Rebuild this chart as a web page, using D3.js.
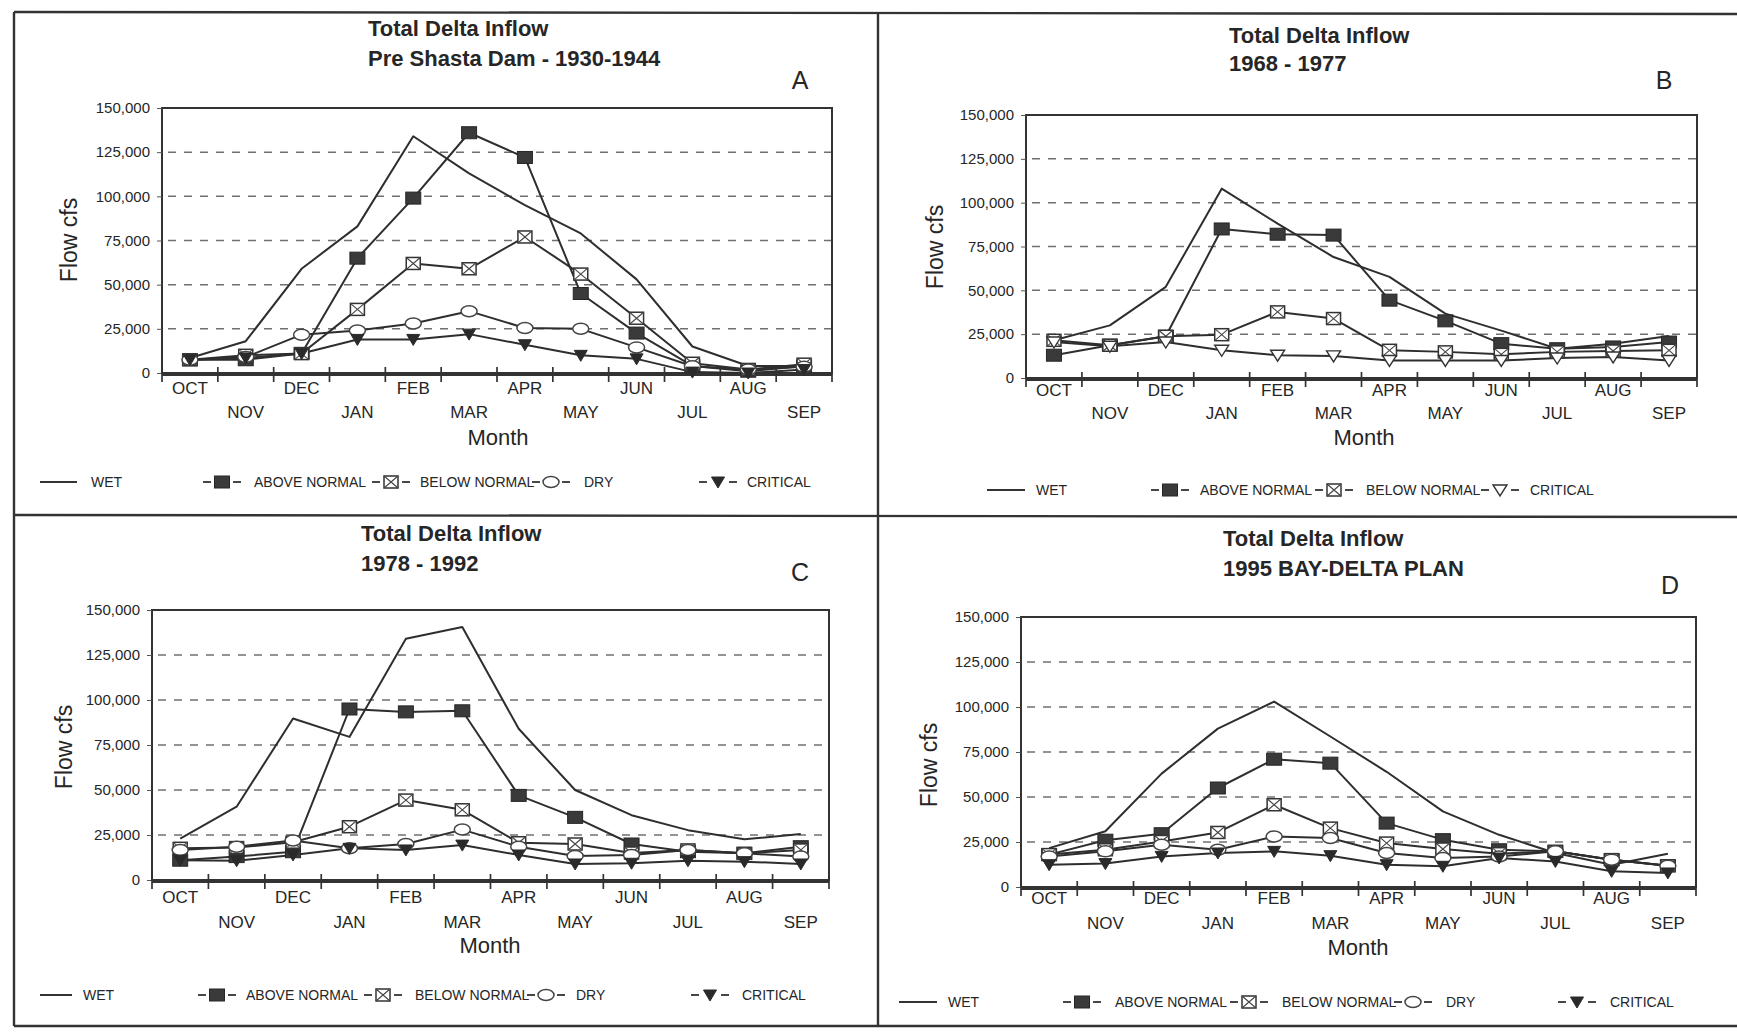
<!DOCTYPE html>
<html><head><meta charset="utf-8">
<script src="https://cdn.jsdelivr.net/npm/d3@7/dist/d3.min.js"></script>
<style>
html,body{margin:0;padding:0;background:#fff;}
svg{display:block;font-family:"Liberation Sans",Arial,sans-serif;}
</style></head><body>
<svg id="chart" width="1737" height="1034"></svg>
<script>
// ---------- DATA ----------
const months = ["OCT","NOV","DEC","JAN","FEB","MAR","APR","MAY","JUN","JUL","AUG","SEP"];
const yTickValues = [0,25000,50000,75000,100000,125000,150000];
const seriesNames = ["WET","ABOVE NORMAL","BELOW NORMAL","DRY","CRITICAL"];

// Panel A: Pre Shasta Dam 1930-1944
const aWet      = [8500,18000,59000,83000,134000,113000,95000,79000,53000,15000,4000,4000];
const aAbove    = [7500,7500,11000,65000,99000,136000,122000,45000,22600,4000,1000,4000];
const aBelow    = [7500,10000,11000,36000,62000,59000,77000,56000,31000,5500,2000,5000];
const aDry      = [7500,9000,21700,24000,28000,35000,25500,25000,14500,3800,2000,3500];
const aCritical = [7500,8500,11000,19000,19000,22000,16000,10000,8000,500,0,2000];

// Panel B: 1968-1977
const bWet      = [21500,30000,52000,108000,88000,69000,57700,36700,27000,16700,19600,24000];
const bAbove    = [13000,18700,23800,85000,82000,81500,44400,32600,19600,16700,17700,20500];
const bBelow    = [21500,18700,23800,24700,37700,33900,15800,14900,13500,14900,15400,15800];
const bCritical = [20500,18100,20500,15800,13000,12600,10000,10000,10000,11400,12000,10000];

// Panel C: 1978-1992
const cWet      = [23000,40700,89700,79500,134000,140600,84000,50000,36000,27700,22600,25500];
const cAbove    = [11000,13000,15700,95000,93400,94000,47000,34800,20000,15700,14800,18500];
const cBelow    = [17600,18000,21000,29600,44400,39000,20700,20000,15000,16700,14800,16700];
const cDry      = [16700,18500,22000,17600,20000,28000,18500,13300,13900,16700,14800,13000];
const cCritical = [11000,10700,13900,17600,16700,19400,13900,8900,9300,10700,10200,8900];

// Panel D: 1995 Bay-Delta Plan
const dWet      = [21600,31000,63000,88000,103000,83600,64000,42000,29000,18900,12400,18500];
const dAbove    = [18000,26000,29600,55000,71000,68800,35500,26300,20700,19800,15200,11800];
const dBelow    = [18000,20700,25300,30300,45700,32700,24400,21100,18500,19800,15200,11800];
const dDry      = [17000,19800,23500,20700,28100,27200,18900,16100,17000,19800,15200,11800];
const dCritical = [12400,13000,17000,18900,19800,17400,12400,11500,16100,14200,8700,7800];

const titleLine1 = "Total Delta Inflow";
const subtitles = ["Pre Shasta Dam - 1930-1944","1968 - 1977","1978 - 1992","1995 BAY-DELTA PLAN"];
const panelLetters = ["A","B","C","D"];

// ---------- LAYOUT ----------
const panels = [
  {series:[aWet,aAbove,aBelow,aDry,aCritical], kinds:["wet","above","below","dry","critical"],
   x0:162,x1:832,yTop:108,y0:373, tx:368,t1:28,t2:58, lx:800,ly:80, fx:69,fy:240,
   r1:388,r2:412, mx:498,my:437, legY:480,
   leg:[{lineA:40,lineB:77,tx:91},{m:222,tx:254},{m:391,tx:420},{m:551,tx:584},{m:718,tx:747}]},
  {series:[bWet,bAbove,bBelow,bCritical], kinds:["wet","above","below","criticalOpen"],
   x0:1026,x1:1697,yTop:115,y0:378, tx:1229,t1:35,t2:63, lx:1664,ly:80, fx:935,fy:247,
   r1:390,r2:413, mx:1364,my:437, legY:488,
   leg:[{lineA:987,lineB:1025,tx:1036},{m:1170,tx:1200},{m:1334,tx:1366},{m:1500,tx:1530}]},
  {series:[cWet,cAbove,cBelow,cDry,cCritical], kinds:["wet","above","below","dry","critical"],
   x0:152,x1:829,yTop:610,y0:880, tx:361,t1:533,t2:563, lx:800,ly:572, fx:64,fy:747,
   r1:897,r2:922, mx:490,my:945, legY:993,
   leg:[{lineA:40,lineB:72,tx:83},{m:217,tx:246},{m:383,tx:415},{m:546,tx:576},{m:710,tx:742}]},
  {series:[dWet,dAbove,dBelow,dDry,dCritical], kinds:["wet","above","below","dry","critical"],
   x0:1021,x1:1696,yTop:617,y0:887, tx:1223,t1:538,t2:568, lx:1670,ly:585, fx:929,fy:765,
   r1:898,r2:923, mx:1358,my:947, legY:1000,
   leg:[{lineA:899,lineB:937,tx:948},{m:1082,tx:1115},{m:1249,tx:1282},{m:1413,tx:1446},{m:1577,tx:1610}]}
];
const legendLabels = {wet:"WET",above:"ABOVE NORMAL",below:"BELOW NORMAL",dry:"DRY",critical:"CRITICAL",criticalOpen:"CRITICAL"};

const INK = "#262626";
const svg = d3.select("#chart");

// frame
const frame = svg.append("g").attr("stroke","#333").attr("stroke-width",2.4).attr("fill","none");
frame.append("line").attr("x1",14).attr("y1",12).attr("x2",1737).attr("y2",14);
frame.append("line").attr("x1",14).attr("y1",12).attr("x2",14).attr("y2",1026);
frame.append("line").attr("x1",14).attr("y1",1026).attr("x2",1737).attr("y2",1026);
frame.append("line").attr("x1",878).attr("y1",13).attr("x2",878).attr("y2",1026);
frame.append("line").attr("x1",14).attr("y1",515).attr("x2",1737).attr("y2",517);

function drawMarker(g, kind, x, y){
  if(kind==="above"){
    g.append("rect").attr("x",x-7.5).attr("y",y-6).attr("width",15).attr("height",12)
     .attr("fill","#3a3a3a").attr("stroke","#262626").attr("stroke-width",1);
  } else if(kind==="below"){
    g.append("rect").attr("x",x-7).attr("y",y-6).attr("width",14).attr("height",12)
     .attr("fill","#fff").attr("stroke","#333").attr("stroke-width",1.5);
    g.append("path").attr("d",`M${x-7},${y-6}L${x+7},${y+6}M${x+7},${y-6}L${x-7},${y+6}`)
     .attr("stroke","#444").attr("stroke-width",1.1).attr("fill","none");
  } else if(kind==="dry"){
    g.append("ellipse").attr("cx",x).attr("cy",y).attr("rx",8).attr("ry",5.5)
     .attr("fill","#fff").attr("stroke","#444").attr("stroke-width",1.5);
  } else if(kind==="critical"){
    g.append("path").attr("d",`M${x-6.5},${y-5}L${x+6.5},${y-5}L${x},${y+6}Z`)
     .attr("fill","#2a2a2a").attr("stroke","#2a2a2a").attr("stroke-width",1);
  } else if(kind==="criticalOpen"){
    g.append("path").attr("d",`M${x-7},${y-5}L${x+7},${y-5}L${x},${y+6}Z`)
     .attr("fill","#fff").attr("stroke","#333").attr("stroke-width",1.4);
  }
}

panels.forEach((p,pi)=>{
  const g = svg.append("g");
  const band = d3.scaleBand().domain(months).range([p.x0,p.x1]).paddingInner(0).paddingOuter(0);
  const x = m => band(m) + band.bandwidth()/2;
  const y = d3.scaleLinear().domain([0,150000]).range([p.y0,p.yTop]);

  // titles
  g.append("text").attr("x",p.tx).attr("y",p.t1+8).text(titleLine1)
   .attr("font-size",22).attr("font-weight","bold").attr("fill",INK);
  g.append("text").attr("x",p.tx).attr("y",p.t2+8).text(subtitles[pi])
   .attr("font-size",22).attr("font-weight","bold").attr("fill",INK);
  g.append("text").attr("x",p.lx).attr("y",p.ly+9).attr("text-anchor","middle").text(panelLetters[pi])
   .attr("font-size",25).attr("fill",INK);

  // gridlines
  g.append("g").selectAll("line").data(yTickValues.filter(v=>v>0 && v<150000)).join("line")
   .attr("x1",p.x0+6).attr("x2",p.x1).attr("y1",d=>y(d)).attr("y2",d=>y(d))
   .attr("stroke","#707070").attr("stroke-width",1.5).attr("stroke-dasharray","8,8");

  // plot box
  g.append("rect").attr("x",p.x0).attr("y",p.yTop).attr("width",p.x1-p.x0).attr("height",p.y0-p.yTop)
   .attr("fill","none").attr("stroke","#333").attr("stroke-width",2);

  // y axis
  const ya = g.append("g").attr("transform",`translate(${p.x0},0)`)
    .call(d3.axisLeft(y).tickValues(yTickValues).tickFormat(d3.format(",")).tickSize(5).tickPadding(7));
  ya.select(".domain").remove();
  ya.selectAll("line").attr("stroke","#555");
  ya.selectAll("text").attr("font-size",15).attr("fill",INK).attr("font-family","Liberation Sans, Arial, sans-serif");

  // x axis ticks (between months) and labels (alternating rows)
  const bounds = months.map(m=>band(m)).concat([p.x1]);
  g.append("g").selectAll("line").data(bounds).join("line")
   .attr("x1",d=>d).attr("x2",d=>d).attr("y1",p.y0-6).attr("y2",p.y0+9)
   .attr("stroke","#333").attr("stroke-width",1.7);
  g.append("line").attr("x1",p.x0).attr("x2",p.x1).attr("y1",p.y0+2).attr("y2",p.y0+2)
   .attr("stroke","#333").attr("stroke-width",2);
  g.append("g").selectAll("text").data(months).join("text")
   .attr("x",d=>x(d)).attr("y",(d,i)=> (i%2===0? p.r1 : p.r2) + 6)
   .attr("text-anchor","middle").attr("font-size",17).attr("fill",INK).text(d=>d);
  g.append("text").attr("x",p.mx).attr("y",p.my+8).attr("text-anchor","middle")
   .attr("font-size",22).attr("fill",INK).text("Month");
  g.append("text").attr("transform",`translate(${p.fx},${p.fy}) rotate(-90)`).attr("text-anchor","middle")
   .attr("dy","0.35em").attr("font-size",23).attr("fill",INK).text("Flow cfs");

  // series lines and markers
  const line = d3.line().x((d,i)=>x(months[i])).y(d=>y(d));
  p.series.forEach((vals)=>{
    g.append("path").datum(vals).attr("d",line).attr("fill","none")
     .attr("stroke","#2e2e2e").attr("stroke-width",2).attr("stroke-linejoin","round");
  });
  p.series.forEach((vals,si)=>{
    const kind = p.kinds[si];
    if(kind==="wet") return;
    const mg = g.append("g");
    vals.forEach((v,i)=>drawMarker(mg,kind,x(months[i]),y(v)));
  });

  // legend
  const lg = g.append("g");
  p.kinds.forEach((kind,ki)=>{
    const L = p.leg[ki];
    if(kind==="wet"){
      lg.append("line").attr("x1",L.lineA).attr("x2",L.lineB).attr("y1",p.legY+2).attr("y2",p.legY+2)
        .attr("stroke","#333").attr("stroke-width",2);
    } else {
      [[-19,-11],[11,19]].forEach(s=>{
        lg.append("line").attr("x1",L.m+s[0]).attr("x2",L.m+s[1]).attr("y1",p.legY+2).attr("y2",p.legY+2)
          .attr("stroke","#333").attr("stroke-width",1.8);
      });
      drawMarker(lg,kind,L.m,p.legY+2);
    }
    lg.append("text").attr("x",L.tx).attr("y",p.legY+7).attr("font-size",14)
      .attr("font-family","'Liberation Sans Narrow','Liberation Sans',Arial,sans-serif")
      .attr("fill",INK).text(legendLabels[kind]);
  });
});
</script>
</body></html>
